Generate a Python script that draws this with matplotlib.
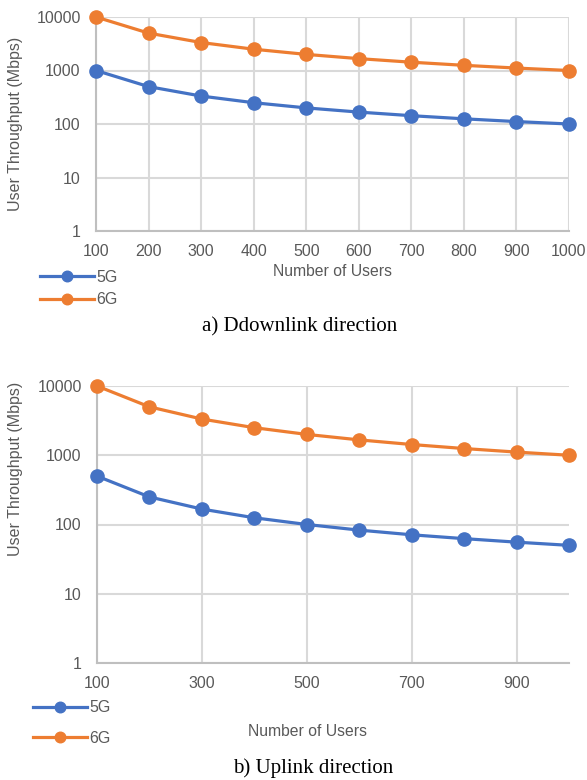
import matplotlib.pyplot as plt
from matplotlib.ticker import FixedLocator, NullLocator

users = [100, 200, 300, 400, 500, 600, 700, 800, 900, 1000]
dl_5g = [1000, 500, 333, 250, 200, 167, 143, 125, 111, 100]
dl_6g = [10000, 5000, 3333, 2500, 2000, 1667, 1429, 1250, 1111, 1000]
ul_5g = [500, 250, 167, 125, 100, 83, 71, 62.5, 55.6, 50]
ul_6g = [10000, 5000, 3333, 2500, 2000, 1667, 1429, 1250, 1111, 1000]
yticks = [1, 10, 100, 1000, 10000]
xticks_top = users
xticks_bottom = [100, 300, 500, 700, 900]

BLUE = '#4472C4'
ORANGE = '#ED7D31'
GRID = '#D9D9D9'
TXT = '#595959'

plt.rcParams['font.family'] = ['Liberation Sans', 'DejaVu Sans']

W, H = 587, 780
fig = plt.figure(figsize=(W / 100, H / 100), dpi=100)


def px_axes(left, top, right, bottom):
    return fig.add_axes([left / W, 1 - bottom / H, (right - left) / W, (bottom - top) / H])


def style_axes(ax, xticks, y5g, y6g):
    l1, = ax.plot(users, y5g, color=BLUE, lw=2.3, marker='o', ms=9.5, label='5G',
                  zorder=3, clip_on=False)
    l2, = ax.plot(users, y6g, color=ORANGE, lw=2.3, marker='o', ms=9.5, label='6G',
                  zorder=3, clip_on=False)
    ax.set_yscale('log')
    ax.set_ylim(1, 10000)
    ax.set_xlim(100, 1000)
    ax.yaxis.set_major_locator(FixedLocator(yticks))
    ax.yaxis.set_minor_locator(NullLocator())
    ax.set_yticklabels([str(v) for v in yticks])
    ax.set_xticks(xticks)
    ax.grid(True, color=GRID, lw=1.5)
    ax.set_axisbelow(True)
    for s in ['top', 'right']:
        ax.spines[s].set_visible(False)
    for s in ['left', 'bottom']:
        ax.spines[s].set_color('#BFBFBF')
        ax.spines[s].set_linewidth(1.5)
    ax.tick_params(axis='both', length=0, labelsize=11.5, colors=TXT)
    ax.tick_params(axis='x', pad=9)
    ax.tick_params(axis='y', pad=11)
    ax.set_xlabel('Number of Users', fontsize=11.3, color=TXT)
    ax.set_ylabel('User Throughput (Mbps)', fontsize=11.5, color=TXT)
    return l1, l2


# a) downlink
ax1 = px_axes(96, 17, 569, 231)
h = style_axes(ax1, xticks_top, dl_5g, dl_6g)
ax1.xaxis.set_label_coords(0.5, -0.155)
ax1.yaxis.set_label_coords(-0.155, 0.5)
fig.legend(h, ['5G', '6G'], loc='center left', bbox_to_anchor=(40 / W, 1 - 288.5 / H),
           frameon=False, fontsize=11.5, labelcolor=TXT, handlelength=3.4,
           handletextpad=0.1, labelspacing=0.45, borderpad=0, borderaxespad=0, markerscale=0.8)
fig.text(300 / W, 1 - 327 / H, 'a) Ddownlink direction', ha='center', va='center',
         fontsize=15, family='Liberation Serif')

# b) uplink
ax2 = px_axes(97, 386, 569, 663)
h = style_axes(ax2, xticks_bottom, ul_5g, ul_6g)
ax2.xaxis.set_label_coords(0.447, -0.22)
ax2.yaxis.set_label_coords(-0.157, 0.70)
fig.legend(h, ['5G', '6G'], loc='center left', bbox_to_anchor=(33 / W, 1 - 723 / H),
           frameon=False, fontsize=11.5, labelcolor=TXT, handlelength=3.4,
           handletextpad=0.1, labelspacing=0.95, borderpad=0, borderaxespad=0, markerscale=0.8)
fig.text(313 / W, 1 - 768 / H, 'b) Uplink direction', ha='center', va='center',
         fontsize=15, family='Liberation Serif')

fig.savefig('out.png', dpi=100)
